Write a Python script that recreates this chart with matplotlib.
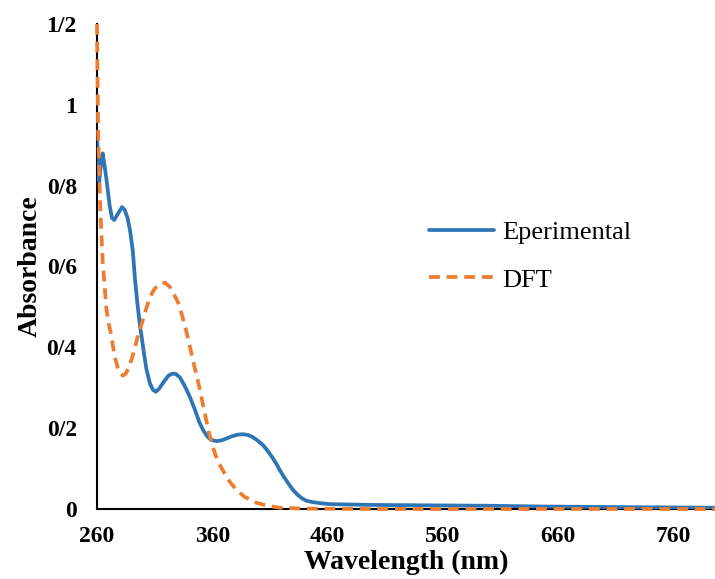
import matplotlib
matplotlib.use("Agg")
import matplotlib.pyplot as plt
from matplotlib.ticker import FixedLocator

plt.rcParams["font.family"] = ["Liberation Serif", "DejaVu Serif"]

# experimental spectrum (nm, absorbance)
exp_nm = [260, 261, 262, 263.5, 265, 268, 271, 273, 275, 278, 281.7, 284, 286.5,
          288.6, 291, 293, 295, 297, 299, 301, 303, 306, 308.5, 311, 314, 318,
          322, 325.5, 328.5, 332, 336, 340.6, 345, 349, 352.5, 356, 360, 364,
          368, 372, 377, 382, 386.5, 391, 395, 399, 404, 408, 412, 415.5, 418.6,
          422, 426, 430, 434, 438, 442, 447, 455, 462, 480, 500, 550, 600, 650,
          700, 750, 797]
exp_abs = [0.93, 0.84, 0.81, 0.86, 0.88, 0.82, 0.75, 0.72, 0.715, 0.73, 0.747, 0.74, 0.72,
           0.69, 0.64, 0.567, 0.51, 0.46, 0.42, 0.38, 0.344, 0.31, 0.295, 0.29, 0.298, 0.315,
           0.33, 0.335, 0.334, 0.325, 0.305, 0.277, 0.245, 0.213, 0.193, 0.178, 0.17, 0.168,
           0.17, 0.174, 0.18, 0.184, 0.185, 0.183, 0.178, 0.17, 0.158, 0.144, 0.128, 0.112, 0.096,
           0.08, 0.063, 0.047, 0.035, 0.026, 0.02, 0.017, 0.014, 0.012, 0.011, 0.01, 0.009, 0.008, 0.006,
           0.005, 0.004, 0.003]

# DFT spectrum
dft_nm = [260, 260.5, 261, 262, 263, 265, 268, 270, 272, 274, 276, 278, 280, 282.5,
          285, 287.5, 290, 293, 296, 299, 302, 306, 310, 314, 319, 323, 327, 330.5,
          333.7, 337, 340, 343, 346.5, 350, 353.6, 357, 360.5, 364.5, 369, 375, 381,
          388, 398.6, 408, 418.6, 440, 500, 600, 700, 797]
dft_abs = [1.2, 1.05, 0.93, 0.83, 0.73, 0.61, 0.5, 0.46, 0.435, 0.4, 0.37, 0.35, 0.335, 0.33,
           0.335, 0.35, 0.37, 0.4, 0.435, 0.46, 0.49, 0.525, 0.545, 0.556, 0.56, 0.55, 0.53, 0.51,
           0.48, 0.445, 0.41, 0.37, 0.33, 0.285, 0.235, 0.19, 0.153, 0.12, 0.096, 0.068, 0.047,
           0.03, 0.015, 0.008, 0.003, 0.001, 0.0, 0.0, 0.0, 0.0]

x_ticks = [260, 360, 460, 560, 660, 760]
y_ticks = [0, 0.2, 0.4, 0.6, 0.8, 1.0, 1.2]
y_tick_labels = ["0", "0/2", "0/4", "0/6", "0/8", "1", "1/2"]

fig = plt.figure(figsize=(7.15, 5.79), dpi=100)
ax = fig.add_axes([97 / 715, 1 - 509 / 579, 1 - 97 / 715, (509 - 24) / 579])

ax.plot(exp_nm, exp_abs, color="#2E75B6", lw=2.7, label="Eperimental",
        solid_capstyle="round", solid_joinstyle="round", zorder=3)
ax.plot(dft_nm, dft_abs, color="#ED7D31", lw=2.7, ls=(0, (2.9, 1.8)),
        label="DFT", zorder=4, clip_on=False)

ax.set_xlim(260, 796)
ax.set_ylim(0, 1.2)

ax.xaxis.set_major_locator(FixedLocator(x_ticks))
ax.set_xticklabels([str(v) for v in x_ticks])
ax.yaxis.set_major_locator(FixedLocator(y_ticks))
ax.set_yticklabels(y_tick_labels)
ax.tick_params(axis="both", length=0, labelsize=17)
ax.tick_params(axis="x", pad=12)
ax.tick_params(axis="y", pad=14.5)
for lab in ax.get_xticklabels() + ax.get_yticklabels():
    lab.set_fontweight("bold")

for side in ["top", "right"]:
    ax.spines[side].set_visible(False)
for side in ["left", "bottom"]:
    ax.spines[side].set_color("black")
    ax.spines[side].set_linewidth(1.5)

ax.set_xlabel("Wavelength (nm)", fontsize=20, fontweight="bold", labelpad=2)
ax.set_ylabel("Absorbance", fontsize=20, fontweight="bold", labelpad=3)

leg = ax.legend(loc="upper left", bbox_to_anchor=(0.498, 0.643), frameon=False,
                fontsize=19, handlelength=2.5, handletextpad=0.3, labelspacing=0.9)

fig.savefig("out.png", dpi=100)
